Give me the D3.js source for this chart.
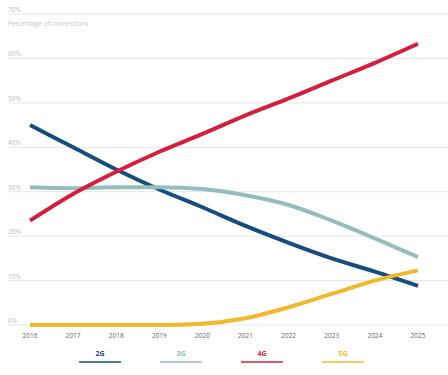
<!DOCTYPE html>
<html>
<head>
<meta charset="utf-8">
<script src="https://cdn.jsdelivr.net/npm/d3@7"></script>
<style>
  body { margin: 0; background: #fff; }
  svg { display: block; font-family: "Open Sans", sans-serif; }
</style>
</head>
<body>
<svg id="chart" width="448" height="375"></svg>
<script>
var years = [2016, 2017, 2018, 2019, 2020, 2021, 2022, 2023, 2024, 2025];
var yTicks = [0, 10, 20, 30, 40, 50, 60, 70];
var g2 = [45, 40, 35, 30.5, 26.5, 22.3, 18.5, 15, 12, 8.8];
var g3 = [31, 30.8, 31, 31, 30.6, 29.2, 27, 23.5, 19.5, 15.3];
var g4 = [23.5, 29.5, 34.5, 39, 43, 47.2, 51, 55, 59, 63.3];
var g5 = [0, 0, 0, 0, 0.3, 1.5, 4, 7, 10, 12.3];

var series = [
	{ name: '2G', values: g2, color: '#164d7e' },
	{ name: '3G', values: g3, color: '#93bebd' },
	{ name: '4G', values: g4, color: '#d21f3c' },
	{ name: '5G', values: g5, color: '#f1b82d' }
];

var svg = d3.select('#chart');

var x = d3.scalePoint().domain(years).range([30, 418]);
var y = d3.scaleLinear().domain([0, 70]).range([325, 14]);

// Gridlines and percentage labels
var grid = svg.append('g');
grid.selectAll('line')
	.data(yTicks)
	.enter().append('line')
	.attr('x1', 8)
	.attr('x2', 448)
	.attr('y1', function(d) { return y(d); })
	.attr('y2', function(d) { return y(d); })
	.style('stroke', '#e6e6e6')
	.style('stroke-width', 1);
grid.selectAll('text')
	.data(yTicks)
	.enter().append('text')
	.attr('x', 8)
	.attr('y', function(d) { return y(d) - 2; })
	.style('font-size', '6.5px')
	.style('fill', '#bdbdbd')
	.text(function(d) { return d + '%'; });

svg.append('text')
	.attr('x', 8)
	.attr('y', 26)
	.style('font-size', '6.5px')
	.style('fill', '#c4c4c4')
	.text('Percentage of connections');

// Year labels
svg.append('g').selectAll('text')
	.data(years)
	.enter().append('text')
	.attr('x', function(d) { return x(d); })
	.attr('y', 338)
	.attr('text-anchor', 'middle')
	.style('font-size', '6.5px')
	.style('fill', '#666')
	.text(function(d) { return d; });

var line = d3.line()
	.x(function(d, i) { return x(years[i]); })
	.y(function(d) { return y(d); })
	.curve(d3.curveMonotoneX);

svg.append('g').selectAll('path')
	.data(series)
	.enter().append('path')
	.attr('d', function(d) { return line(d.values); })
	.style('fill', 'none')
	.style('stroke', function(d) { return d.color; })
	.style('stroke-width', 4)
	.style('stroke-linecap', 'butt');

// Legend
var legend = svg.append('g').selectAll('g')
	.data(series)
	.enter().append('g')
	.attr('transform', function(d, i) { return 'translate(' + (100 + i * 81) + ',0)'; });
legend.append('text')
	.attr('x', 0)
	.attr('y', 356)
	.attr('text-anchor', 'middle')
	.style('font-size', '7px')
	.style('font-weight', 'bold')
	.style('fill', function(d) { return d.color; })
	.text(function(d) { return d.name; });
legend.append('line')
	.attr('x1', -21)
	.attr('x2', 21)
	.attr('y1', 362)
	.attr('y2', 362)
	.style('stroke', function(d) { return d.color; })
	.style('stroke-width', 1.5);
</script>
</body>
</html>
